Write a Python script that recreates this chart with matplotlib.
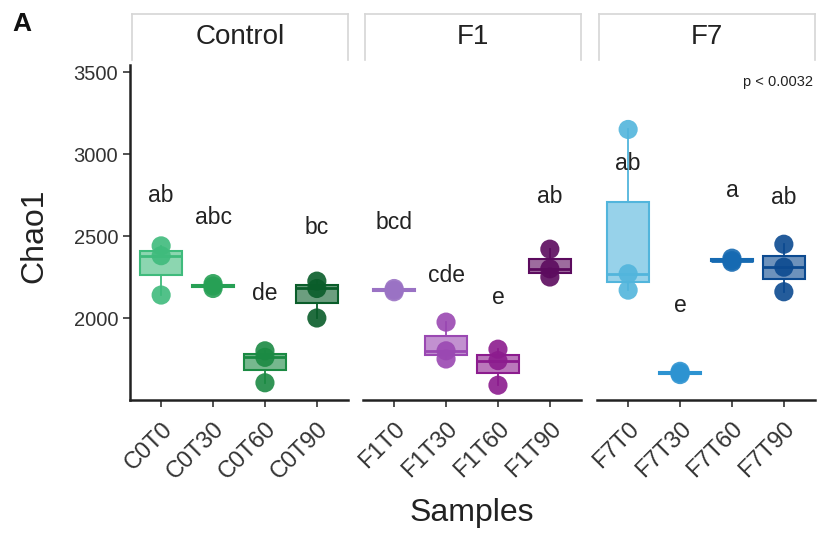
import numpy as np
import matplotlib
matplotlib.use("Agg")
import matplotlib.pyplot as plt

plt.rcParams['font.family'] = ['Liberation Sans', 'DejaVu Sans']

# data
panels = ['Control', 'F1', 'F7']
samples = [['C0T0', 'C0T30', 'C0T60', 'C0T90'],
           ['F1T0', 'F1T30', 'F1T60', 'F1T90'],
           ['F7T0', 'F7T30', 'F7T60', 'F7T90']]
chao1 = {
    'C0T0': [2140, 2380, 2440],
    'C0T30': [2180, 2195, 2210],
    'C0T60': [1605, 1760, 1800],
    'C0T90': [2000, 2180, 2225],
    'F1T0': [2160, 2170, 2180],
    'F1T30': [1750, 1800, 1975],
    'F1T60': [1590, 1740, 1810],
    'F1T90': [2250, 2300, 2420],
    'F7T0': [2170, 2270, 3150],
    'F7T30': [1655, 1665, 1675],
    'F7T60': [2340, 2350, 2365],
    'F7T90': [2160, 2310, 2450],
}
letters = {
    'C0T0': ('ab', 2750), 'C0T30': ('abc', 2610), 'C0T60': ('de', 2152), 'C0T90': ('bc', 2555),
    'F1T0': ('bcd', 2585), 'F1T30': ('cde', 2262), 'F1T60': ('e', 2128), 'F1T90': ('ab', 2744),
    'F7T0': ('ab', 2945), 'F7T30': ('e', 2079), 'F7T60': ('a', 2780), 'F7T90': ('ab', 2732),
}
colors = {
    'C0T0': '#3fbb7c', 'C0T30': '#27a055', 'C0T60': '#1b8a43', 'C0T90': '#0a5d2a',
    'F1T0': '#9a72c4', 'F1T30': '#9a48b2', 'F1T60': '#8c1c8e', 'F1T90': '#5c0b5e',
    'F7T0': '#52b5dc', 'F7T30': '#2d93d1', 'F7T60': '#166ab2', 'F7T90': '#0c4a90',
}
p_text = 'p < 0.0032'

fig = plt.figure(figsize=(8.17, 5.34), dpi=100)
lefts = [130, 363, 597]
pw = 218
ylim = (1500, 3543)

for i, (panel, names) in enumerate(zip(panels, samples)):
    ax = fig.add_axes([lefts[i] / 817, (534 - 400) / 534, pw / 817, 335 / 534])
    pos = np.arange(1, len(names) + 1)
    vals = [chao1[n] for n in names]
    bp = ax.boxplot(vals, positions=pos, widths=0.8, patch_artist=True,
                    showfliers=False, whis=1.5, showcaps=False)
    for j, n in enumerate(names):
        c = colors[n]
        bp['boxes'][j].set_facecolor(matplotlib.colors.to_rgba(c, 0.6))
        bp['boxes'][j].set_edgecolor(c)
        bp['boxes'][j].set_linewidth(1.5)
        bp['medians'][j].set_color(c)
        bp['medians'][j].set_linewidth(2)
        for w in bp['whiskers'][2 * j:2 * j + 2]:
            w.set_color(c)
            w.set_linewidth(1.3)
        ax.scatter([pos[j]] * len(chao1[n]), chao1[n], s=190, color=c,
                   alpha=0.9, edgecolors='none', zorder=3)
        t, ty = letters[n]
        ax.text(pos[j], ty, t, ha='center', va='center', fontsize=16.5, color='#222222')

    ax.set_xlim(0.4, 4.6)
    ax.set_ylim(*ylim)
    ax.set_xticks(pos)
    ax.set_xticklabels(names, rotation=45, ha='right', va='top',
                       rotation_mode='anchor', fontsize=17, color='#333333')
    for s in ['top', 'right']:
        ax.spines[s].set_visible(False)
    ax.spines['bottom'].set_linewidth(1.8)
    ax.spines['bottom'].set_color('#222222')
    ax.tick_params(axis='x', length=5, width=1.2, color='#333333', pad=8)
    if i == 0:
        ax.spines['left'].set_linewidth(1.8)
        ax.spines['left'].set_color('#222222')
        ax.set_yticks([2000, 2500, 3000, 3500])
        ax.tick_params(axis='y', length=5, width=1.2, color='#333333',
                       labelsize=14.5, labelcolor='#333333')
    else:
        ax.spines['left'].set_visible(False)
        ax.set_yticks([])
    if i == 2:
        ax.text(0.99, 0.97, p_text, transform=ax.transAxes, ha='right',
                va='top', fontsize=10.5, color='#222222')

    # strip
    sax = fig.add_axes([(lefts[i] + 2) / 817, (534 - 60) / 534, (pw - 2) / 817, 46 / 534])
    sax.set_xticks([])
    sax.set_yticks([])
    for s in sax.spines.values():
        s.set_color('#d6d6d6')
        s.set_linewidth(1.2)
    sax.spines['bottom'].set_visible(False)
    sax.text(0.5, 0.5, panel, ha='center', va='center', fontsize=20,
             color='#222222', transform=sax.transAxes)

fig.text(472 / 817, 1 - 513 / 534, 'Samples', ha='center', va='center',
         fontsize=23, color='#222222')
fig.text(34 / 817, 1 - 236 / 534, 'Chao1', ha='center', va='center',
         rotation=90, fontsize=23, color='#222222')
fig.text(12 / 817, 1 - 24 / 534, 'A', ha='left', va='center',
         fontsize=19, fontweight='bold', color='#111111')

plt.savefig('out.png', dpi=100)
plt.close()
